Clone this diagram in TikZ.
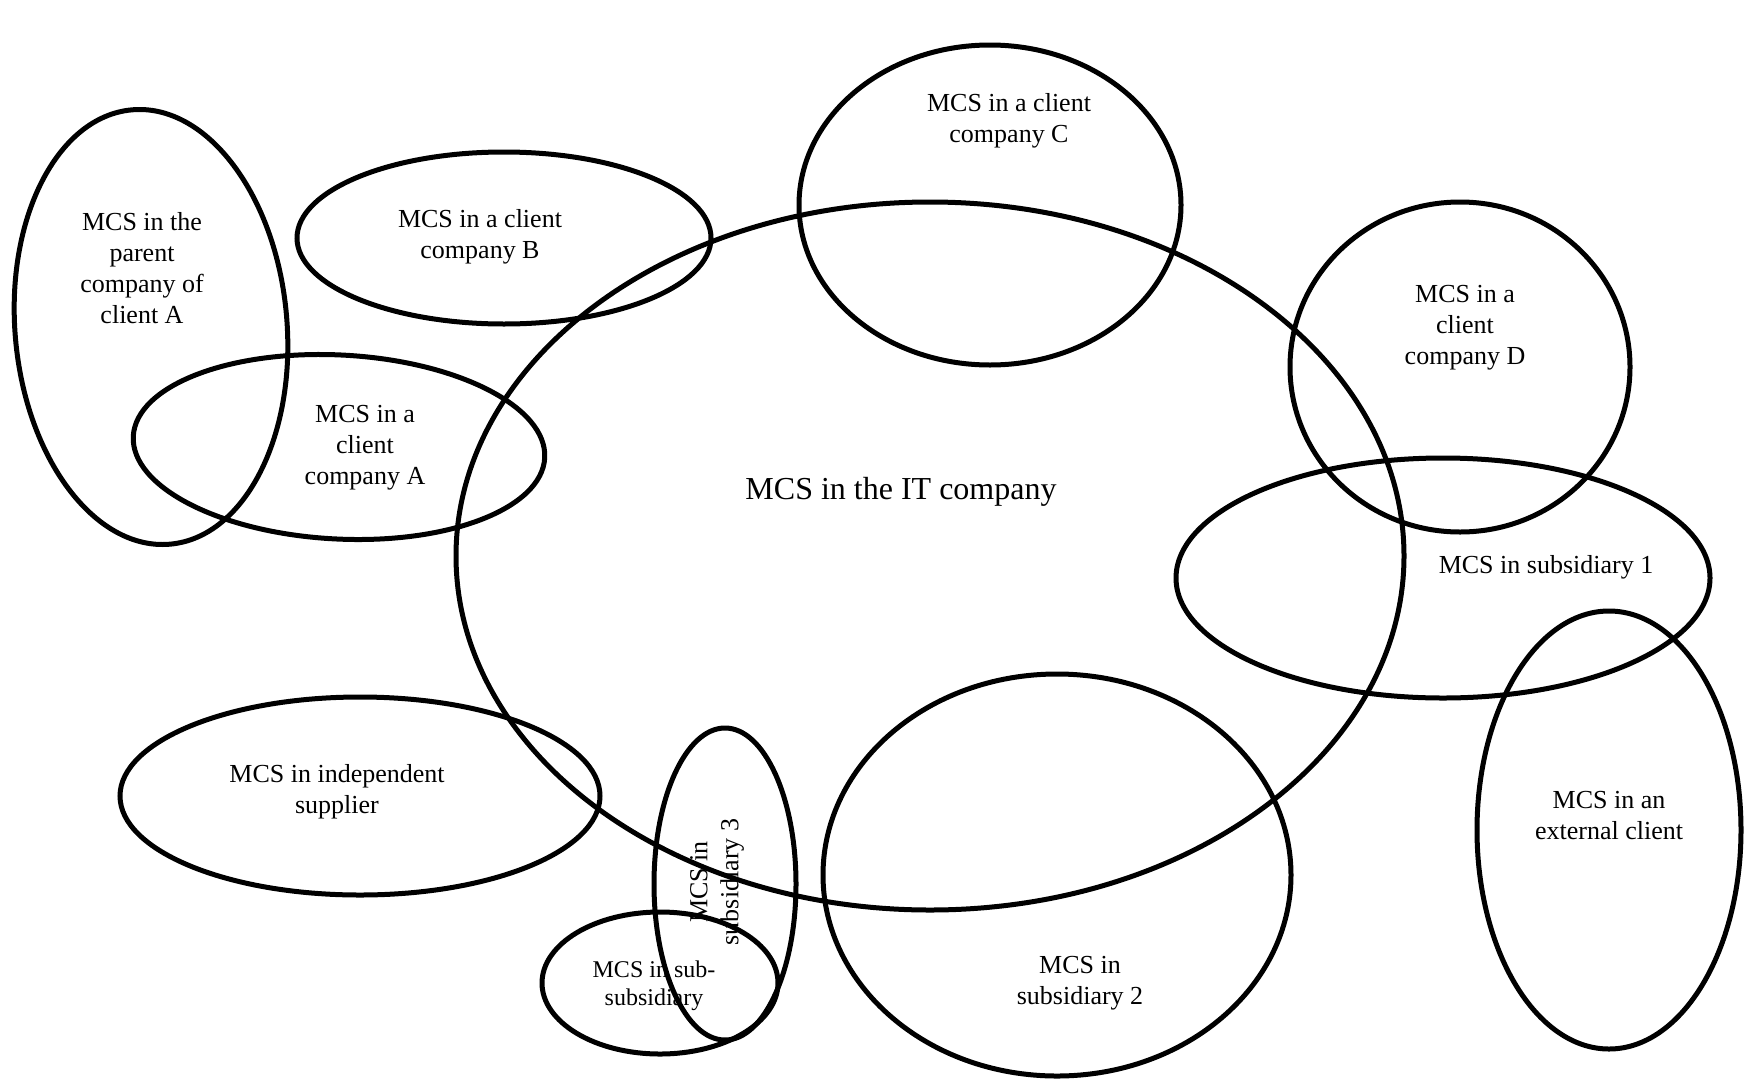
\documentclass[tikz,border=0pt]{standalone}
\usepackage{fontspec}
\setmainfont{Liberation Serif}
\usetikzlibrary{shapes.geometric}
\begin{document}
\begin{tikzpicture}[x=1pt,y=-1pt,
  ring/.style={draw=black, line width=5pt, ellipse, inner sep=0pt, fill=none},
  lbl/.style={align=center, inner sep=0pt, font=\fontsize{26}{31}\selectfont},
  biglbl/.style={align=center, inner sep=0pt, font=\fontsize{32}{38}\selectfont},
  smalllbl/.style={align=center, inner sep=0pt, font=\fontsize{24}{28}\selectfont}]
\useasboundingbox (0,0) rectangle (1744,1079);
% ellipses
\node[ring, minimum width=948pt, minimum height=708pt] (it) at (930,556) {};
\node[ring, minimum width=272pt, minimum height=436pt, rotate=5] (par) at (151,327) {};
\node[ring, minimum width=414pt, minimum height=172pt] (cb) at (504,238) {};
\node[ring, minimum width=412pt, minimum height=184pt, rotate=-3] (ca) at (339,447) {};
\node[ring, minimum width=382pt, minimum height=320pt] (cc) at (990,205) {};
\node[ring, minimum width=340pt, minimum height=330pt] (cd) at (1460,367) {};
\node[ring, minimum width=534pt, minimum height=240pt] (s1) at (1443,578) {};
\node[ring, minimum width=264pt, minimum height=438pt] (ext) at (1609,830) {};
\node[ring, minimum width=480pt, minimum height=198pt] (sup) at (360,796) {};
\node[ring, minimum width=142pt, minimum height=312pt] (s3) at (725,884) {};
\node[ring, minimum width=236pt, minimum height=142pt] (ss) at (660,983) {};
\node[ring, minimum width=468pt, minimum height=402pt] (s2) at (1057,875) {};
% labels
\node[biglbl] (tit) at (901,492) {MCS in the IT company};
\node[lbl] (tpar) at (142,268) {MCS in the\\parent\\company of\\client A};
\node[lbl] (tcb) at (480,237) {MCS in a client\\company B};
\node[lbl] (tca) at (365,448) {MCS in a\\client\\company A};
\node[lbl] (tcc) at (1009,121) {MCS in a client\\company C};
\node[lbl] (tcd) at (1465,328) {MCS in a\\client\\company D};
\node[lbl] (ts1) at (1546,567) {MCS in subsidiary 1};
\node[lbl] (text) at (1609,816) {MCS in an\\external client};
\node[lbl] (tsup) at (337,792) {MCS in independent\\supplier};
\node[lbl] (ts2) at (1080,983) {MCS in\\subsidiary 2};
\node[smalllbl] (tss) at (654,986) {MCS in sub-\\subsidiary};
\node[lbl, rotate=90] (ts3) at (717,882) {MCS in\\subsidiary 3};
\end{tikzpicture}
\end{document}
